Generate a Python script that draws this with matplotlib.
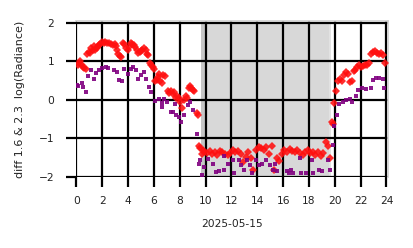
import matplotlib
matplotlib.use("Agg")
import matplotlib.pyplot as plt

# --- data (hours of day 2025-05-15, log radiance difference) ---
red_hours = [0.1, 0.2, 0.3, 0.4, 0.5, 0.6, 0.7, 0.85, 0.95, 1.05, 1.15, 1.25, 1.35, 1.45, 1.55,
             1.65, 1.75, 1.85, 1.95, 2.1, 2.2, 2.35, 2.5, 2.65, 2.8, 2.95, 3.05, 3.15, 3.25, 3.35,
             3.45, 3.6, 3.7, 3.85, 3.95, 4.05, 4.2, 4.3, 4.45, 4.55, 4.65, 4.75, 4.9, 5.0, 5.1,
             5.25, 5.35, 5.45, 5.55, 5.7, 5.8, 5.9, 6.0, 6.1, 6.2, 6.3, 6.4, 6.5, 6.6, 6.7, 6.85,
             7.1, 7.2, 7.3, 7.45, 7.55, 7.7, 7.8, 7.95, 8.05, 8.2, 8.3, 8.45, 8.55, 8.7, 8.8, 8.9,
             9.0, 9.1, 9.3, 9.4, 9.5, 9.6, 9.7, 9.8, 9.9,
             10.1, 10.3, 10.5, 10.7, 10.9, 11.1, 11.3, 11.5, 11.7, 11.9, 12.1, 12.3, 12.5, 12.7,
             12.9, 13.1, 13.3, 13.5, 13.7, 13.9, 14.1, 14.3, 14.5, 14.7, 14.9, 15.1, 15.3, 15.5,
             15.7, 15.9, 16.1, 16.3, 16.5, 16.7, 16.9, 17.1, 17.3, 17.5, 17.7, 17.9, 18.1, 18.3,
             18.5, 18.7, 18.9, 19.1, 19.3, 19.5, 19.6, 19.75, 19.85, 19.95,
             20.1, 20.25, 20.4, 20.55, 20.7, 20.85, 21.0, 21.15, 21.3, 21.45, 21.6, 21.75, 21.9,
             22.05, 22.2, 22.35, 22.5, 22.65, 22.8, 22.95, 23.1, 23.25, 23.4, 23.55, 23.7, 23.85]
red_values = [0.92, 0.95, 1.0, 0.9, 0.85, 0.82, 0.8, 1.2, 1.25, 1.22, 1.35, 1.3, 1.4, 1.3, 1.35,
              1.4, 1.42, 1.45, 1.5, 1.48, 1.5, 1.47, 1.48, 1.45, 1.42, 1.45, 1.4, 1.3, 1.2, 1.15,
              1.12, 1.48, 1.45, 1.35, 1.3, 1.38, 1.48, 1.45, 1.42, 1.38, 1.3, 1.22, 1.25, 1.28, 1.3,
              1.35, 1.3, 1.2, 1.18, 0.95, 0.9, 0.85, 0.8, 0.48, 0.52, 0.6, 0.68, 0.5, 0.45, 0.65, 0.62,
              0.22, 0.18, 0.22, 0.15, 0.2, 0.05, 0.1, 0.05, -0.05, -0.2, 0.0, 0.1, 0.05, 0.3, 0.35, 0.3,
              0.25, 0.22, -0.35, -0.4, -1.2, -1.25, -1.4, -1.3, -1.35,
              -1.38, -1.33, -1.4, -1.35, -1.42, -1.33, -1.36, -1.4, -1.44, -1.38, -1.3, -1.35, -1.32,
              -1.4, -1.6, -1.47, -1.36, -1.5, -1.82, -1.3, -1.22, -1.25, -1.3, -1.22, -1.4, -1.2,
              -1.82, -1.5, -1.58, -1.4, -1.3, -1.35, -1.28, -1.32, -1.36, -1.3, -1.38, -1.42, -1.35,
              -1.3, -1.38, -1.35, -1.42, -1.36, -1.45, -1.38, -1.08, -1.2, -1.5, -0.56, -0.62, -0.07,
              0.22, 0.5, 0.55, 0.48, 0.65, 0.72, 0.68, 0.47, 0.5, 0.75, 0.78, 0.85, 0.9,
              0.85, 0.88, 0.92, 0.9, 0.95, 1.2, 1.25, 1.28, 1.22, 1.2, 1.22, 1.18, 0.95]

purple_hours = [0.05, 0.15, 0.4, 0.5, 0.7, 0.9, 1.15, 1.35, 1.5, 1.75, 1.95, 2.3, 2.45, 2.9,
                3.1, 3.3, 3.5, 3.65, 3.95, 4.2, 4.35, 4.6, 4.8, 5.0, 5.2, 5.4, 5.6, 5.8, 6.05,
                6.35, 6.6, 6.65, 6.75, 7.0, 7.3, 7.5, 7.6, 7.7, 7.95, 8.1, 8.3, 8.6, 8.8, 9.05,
                9.3, 9.45, 9.55, 9.75, 9.85,
                10.2, 10.6, 10.8, 11.0, 11.4, 11.45, 11.7, 12.1, 12.2, 12.6, 12.7, 13.0, 13.2,
                13.4, 13.6, 13.9, 14.1, 14.4, 14.7, 15.0, 15.2, 15.4, 15.5, 16.3, 16.45, 16.6,
                16.8, 17.3, 17.4, 17.8, 18.2, 18.3, 18.8, 19.0, 19.5, 19.6,
                19.83, 19.96, 20.17, 20.35, 20.6, 20.86, 21.16, 21.37, 21.63, 21.83, 22.14,
                22.4, 22.8, 22.98, 23.18, 23.44, 23.7, 23.83]
purple_values = [0.4, 0.35, 0.45, 0.33, 0.2, 0.62, 0.77, 0.55, 0.7, 0.77, 0.83, 0.85, 0.83, 0.78,
                 0.72, 0.52, 0.5, 0.8, 0.68, 0.8, 0.85, 0.78, 0.55, 0.65, 0.72, 0.55, 0.33, 0.2, -0.02,
                 0.02, -0.08, -0.18, 0.02, -0.04, -0.32, -0.3, -0.1, -0.38, -0.43, -0.58, -0.38, -0.12,
                 -0.06, -0.25, -0.88, -1.65, -1.55, -1.95, -1.75,
                 -1.53, -1.65, -1.86, -1.85, -1.45, -1.82, -1.65, -1.57, -1.9, -1.57, -1.7, -1.82,
                 -1.55, -1.7, -1.9, -1.55, -1.7, -1.67, -1.55, -1.7, -1.82, -1.65, -1.85, -1.85,
                 -1.9, -1.82, -1.9, -1.5, -1.9, -1.9, -1.55, -1.9, -1.82, -1.85, -1.55, -1.82,
                 -1.17, -0.68, -0.4, -0.1, -0.05, 0.0, 0.02, -0.05, 0.1, 0.25, 0.3,
                 0.28, 0.32, 0.52, 0.57, 0.57, 0.55, 0.3]

x_ticks = [0, 2, 4, 6, 8, 10, 12, 14, 16, 18, 20, 22, 24]
y_ticks = [-2, -1, 0, 1, 2]
night_start, night_end = 9.65, 19.7

fig = plt.figure(figsize=(4.14, 2.48), dpi=100)
ax = fig.add_axes([76.5 / 414, 1 - 177 / 248, (388 - 76.5) / 414, (177 - 21) / 248])

ax.axvspan(night_start, night_end, color="#d8d8d8", lw=0, zorder=0)
ax.axvspan(night_start, night_start + 0.3, color="#c6c6c6", lw=0, zorder=0)
ax.axvspan(night_end - 0.15, night_end, color="#e2e2e2", lw=0, zorder=0)

ax.plot(red_hours, red_values, linestyle="none", marker="D", markersize=4.4,
        color="#ff1010", alpha=0.88, markeredgewidth=0, zorder=3)
ax.plot(purple_hours, purple_values, linestyle="none", marker="s", markersize=3.5,
        color="#800080", alpha=0.9, markeredgewidth=0, zorder=3)

ax.set_xlim(0, 24.12)
ax.set_ylim(-2.0, 2.05)
ax.set_xticks(x_ticks)
ax.set_yticks(y_ticks)
ax.grid(True, color="black", linewidth=1.6)
ax.set_axisbelow(True)
for side in ("left", "bottom"):
    ax.spines[side].set_visible(False)
for side in ("top", "right"):
    ax.spines[side].set_color("#cfcfcf")
    ax.spines[side].set_linewidth(1.2)
ax.tick_params(axis="both", length=7, width=1.6, color="black", labelsize=7.7,
               labelcolor="#222222")
ax.tick_params(axis="y", pad=9)
ax.tick_params(axis="x", pad=7)

ax.set_xlabel("2025-05-15", fontsize=7.7, color="#222222", labelpad=9)
ax.set_ylabel("diff 1.6 & 2.3  log(Radiance)", fontsize=8, color="#222222", labelpad=10)

fig.savefig("out.png", dpi=100)
